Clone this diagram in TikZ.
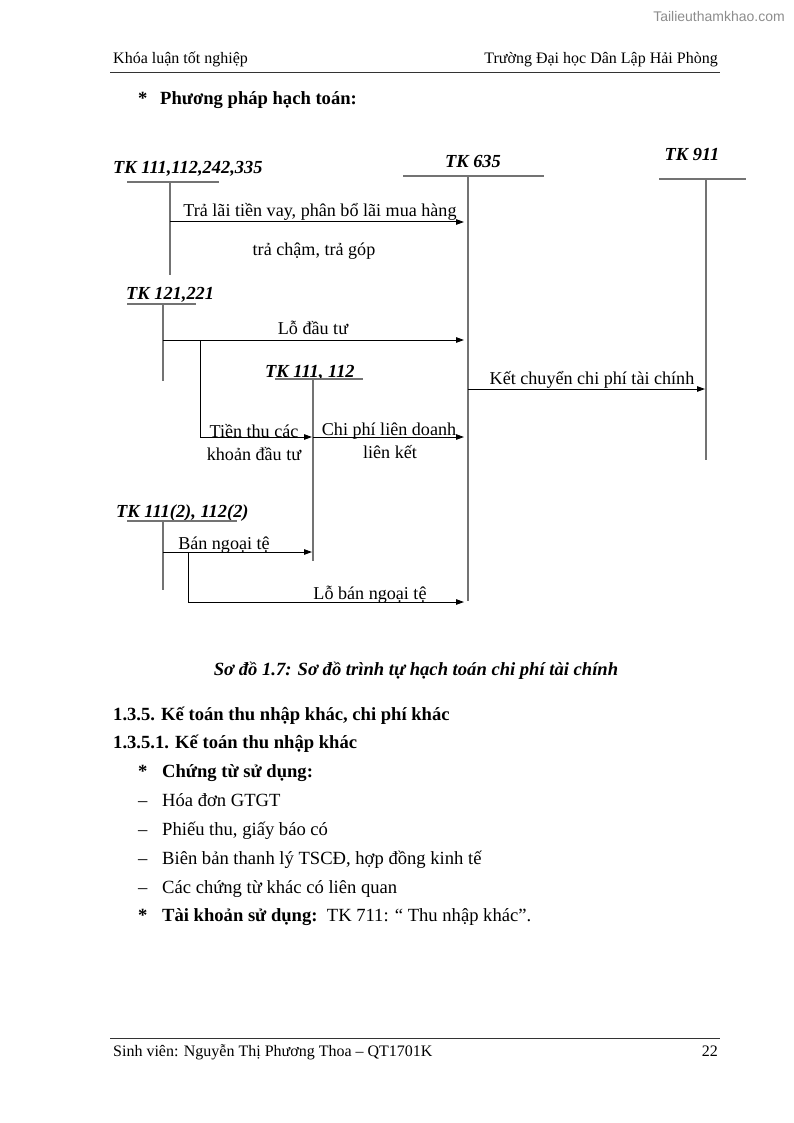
\documentclass[tikz,border=0pt]{standalone}
\usepackage{fontspec}
\setmainfont{Liberation Serif}
\newfontfamily\wmfont{Liberation Sans}
\usetikzlibrary{arrows.meta}
\tikzset{
  txt/.style={inner sep=0pt, font=\fontsize{18.1}{21}\selectfont},
  btxt/.style={inner sep=0pt, font=\fontsize{18.6}{22}\selectfont},
  hdr/.style={inner sep=0pt, font=\fontsize{16}{19}\selectfont},
  tkl/.style={inner sep=0pt, font=\fontsize{18.4}{21}\selectfont\bfseries\itshape},
  capt/.style={inner sep=0pt, font=\fontsize{18.6}{22}\selectfont\bfseries\itshape},
  bld/.style={inner sep=0pt, font=\fontsize{18.6}{22}\selectfont\bfseries},
  tline/.style={draw=black!55, line width=1.2pt},
  arr/.style={draw=black, line width=1pt, -{Triangle[length=8pt,width=5.5pt]}},
  rule/.style={draw=black!80, line width=0.8pt},
}
\begin{document}
\begin{tikzpicture}[x=1pt,y=-1pt]
\useasboundingbox (0,0) rectangle (794,1123);
% watermark
\node[inner sep=0pt, anchor=east, text=black!45, font=\wmfont\fontsize{14}{16}\selectfont] (wm) at (785,16) {Tailieuthamkhao.com};
% header
\node[hdr, anchor=base west] (hl) at (113,64) {Khóa luận tốt nghiệp};
\node[hdr, anchor=base east] (hr) at (718,64) {Trường Đại học Dân Lập Hải Phòng};
\coordinate (hla) at (110,72); \coordinate (hlb) at (720,72);
\draw[rule] (hla) -- (hlb);
% method heading
\node[bld, anchor=base west] (st1) at (138,105) {*};
\node[bld, anchor=base west] (pp) at (160,105) {Phương pháp hạch toán:};

% ---- T accounts ----
% TK 111,112,242,335
\node[tkl, anchor=base west] (tka) at (113,174) {TK 111,112,242,335};
\coordinate (aL) at (127,182); \coordinate (aR) at (219,182);
\coordinate (aT) at (170,182); \coordinate (aB) at (170,275);
\draw[tline] (aL) -- (aR); \draw[tline] (aT) -- (aB);
% TK 635
\node[tkl, anchor=base] (tkb) at (473,168) {TK 635};
\coordinate (bL) at (403,176); \coordinate (bR) at (544,176);
\coordinate (bT) at (468,176); \coordinate (bB) at (468,601);
\draw[tline] (bL) -- (bR); \draw[tline] (bT) -- (bB);
% TK 911
\node[tkl, anchor=base] (tkc) at (692,161) {TK 911};
\coordinate (cL) at (659,179); \coordinate (cR) at (746,179);
\coordinate (cT) at (706,179); \coordinate (cB) at (706,460);
\draw[tline] (cL) -- (cR); \draw[tline] (cT) -- (cB);
% TK 121,221
\node[tkl, anchor=base west] (tkd) at (126,299) {TK 121,221};
\coordinate (dL) at (127,304); \coordinate (dR) at (196,304);
\coordinate (dT) at (163,304); \coordinate (dB) at (163,381);
\draw[tline] (dL) -- (dR); \draw[tline] (dT) -- (dB);
% TK 111, 112
\node[tkl, anchor=base west] (tke) at (265,377) {TK 111, 112};
\coordinate (eL) at (275,379); \coordinate (eR) at (363,379);
\coordinate (eT) at (313,379); \coordinate (eB) at (313,561);
\draw[tline] (eL) -- (eR); \draw[tline] (eT) -- (eB);
% TK 111(2), 112(2)
\node[tkl, anchor=base west] (tkf) at (116,517) {TK 111(2), 112(2)};
\coordinate (fL) at (127,521); \coordinate (fR) at (237,521);
\coordinate (fT) at (163,521); \coordinate (fB) at (163,590);
\draw[tline] (fL) -- (fR); \draw[tline] (fT) -- (fB);

% ---- arrows ----
\coordinate (a1s) at (170,222); \coordinate (a1e) at (464,222);
\draw[arr] (a1s) -- (a1e);
\node[txt, anchor=base] (l1) at (320,217) {Trả lãi tiền vay, phân bổ lãi mua hàng};
\node[txt, anchor=base] (l1b) at (314,255) {trả chậm, trả góp};

\coordinate (a2s) at (163,340); \coordinate (a2e) at (464,340);
\draw[arr] (a2s) -- (a2e);
\node[txt, anchor=base] (l2) at (313,334) {Lỗ đầu tư};

\coordinate (a3s) at (200,340); \coordinate (a3m) at (200,437); \coordinate (a3e) at (312,437);
\draw[arr] (a3s) -- (a3m) -- (a3e);
\node[txt, anchor=base] (l3) at (254,437) {Tiền thu các};
\node[txt, anchor=base] (l3b) at (254,460) {khoản đầu tư};

\coordinate (a4s) at (313,437); \coordinate (a4e) at (464,437);
\draw[arr] (a4s) -- (a4e);
\node[txt, anchor=base] (l4) at (389,435) {Chi phí liên doanh};
\node[txt, anchor=base] (l4b) at (390,458) {liên kết};

\coordinate (a5s) at (468,389); \coordinate (a5e) at (705,389);
\draw[arr] (a5s) -- (a5e);
\node[txt, anchor=base] (l5) at (592,384) {Kết chuyển chi phí tài chính};

\coordinate (a6s) at (163,552); \coordinate (a6e) at (312,552);
\draw[arr] (a6s) -- (a6e);
\node[txt, anchor=base] (l6) at (224,549) {Bán ngoại tệ};

\coordinate (a7s) at (188,552); \coordinate (a7m) at (188,602); \coordinate (a7e) at (464,602);
\draw[arr] (a7s) -- (a7m) -- (a7e);
\node[txt, anchor=base] (l7) at (370,599) {Lỗ bán ngoại tệ};

% caption
\node[capt, anchor=base] (cap) at (416,675) {Sơ đồ 1.7: Sơ đồ trình tự hạch toán chi phí tài chính};

% body text
\node[bld, anchor=base west] (h1) at (113,720) {1.3.5. Kế toán thu nhập khác, chi phí khác};
\node[bld, anchor=base west] (h2) at (113,748) {1.3.5.1. Kế toán thu nhập khác};
\node[bld, anchor=base west] (s2) at (138,777) {*};
\node[bld, anchor=base west] (ct) at (162,777) {Chứng từ sử dụng:};
\node[btxt, anchor=base west] (d1) at (138,806) {–};
\node[btxt, anchor=base west] (i1) at (162,806) {Hóa đơn GTGT};
\node[btxt, anchor=base west] (d2) at (138,835) {–};
\node[btxt, anchor=base west] (i2) at (162,835) {Phiếu thu, giấy báo có};
\node[btxt, anchor=base west] (d3) at (138,864) {–};
\node[btxt, anchor=base west] (i3) at (162,864) {Biên bản thanh lý TSCĐ, hợp đồng kinh tế};
\node[btxt, anchor=base west] (d4) at (138,893) {–};
\node[btxt, anchor=base west] (i4) at (162,893) {Các chứng từ khác có liên quan};
\node[bld, anchor=base west] (s3) at (138,921) {*};
\node[btxt, anchor=base west] (tk) at (162,921) {\textbf{Tài khoản sử dụng:}\ \ TK 711: “ Thu nhập khác”.};

% footer
\coordinate (fla) at (110,1038); \coordinate (flb) at (720,1038);
\draw[rule] (fla) -- (flb);
\node[hdr, anchor=base west] (fl) at (113,1056) {Sinh viên: Nguyễn Thị Phương Thoa – QT1701K};
\node[hdr, anchor=base east] (fr) at (718,1056) {22};
\end{tikzpicture}
\end{document}
